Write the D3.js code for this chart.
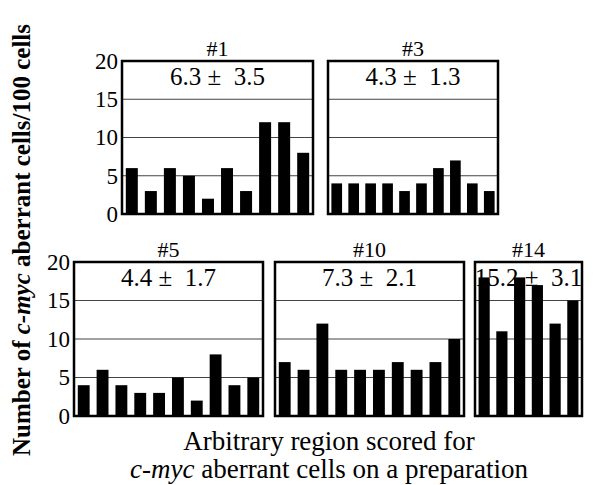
<!DOCTYPE html>
<html>
<head>
<meta charset="utf-8">
<script src="https://cdn.jsdelivr.net/npm/d3@7"></script>
<style>
  body { margin: 0; background: #fff; }
  svg { display: block; }
  text { font-family: "Liberation Serif", "DejaVu Serif", serif; fill: #000; }
</style>
</head>
<body>
<div id="chart"></div>
<script>
// panel names and summary stats (mean ± sd)
const panelNames = ["#1", "#3", "#5", "#10", "#14"];
const panelMeans = ["6.3", "4.3", "4.4", "7.3", "15.2"];
const panelSDs = ["3.5", "1.3", "1.7", "2.1", "3.1"];

// aberrant cells per 100 cells, one bar per region scored
const cells1 = [6, 3, 6, 5, 2, 6, 3, 12, 12, 8];
const cells3 = [4, 4, 4, 4, 3, 4, 6, 7, 4, 3];
const cells5 = [4, 6, 4, 3, 3, 5, 2, 8, 4, 5];
const cells10 = [7, 6, 12, 6, 6, 6, 7, 6, 7, 10];
const cells14 = [18, 11, 18, 17, 12, 15];

const yTicks = [0, 5, 10, 15, 20];

const allCells = [cells1, cells3, cells5, cells10, cells14];

// panel boxes: x0, x1, row
const boxes = [
    {x0: 122, x1: 313, row: 0, axis: true},
    {x0: 328, x1: 498, row: 0, axis: false},
    {x0: 74, x1: 263, row: 1, axis: true},
    {x0: 275, x1: 464, row: 1, axis: false},
    {x0: 475, x1: 582, row: 1, axis: false}
];
const rows = [{top: 61, bottom: 214}, {top: 262, bottom: 416}];

const width = 612, height = 485;

const svg = d3.select("#chart").append("svg")
    .attr("width", width)
    .attr("height", height);

panelNames.forEach((name, i) => {
    let b = boxes[i];
    let r = rows[b.row];
    let vals = allCells[i];

    let y = d3.scaleLinear().domain([0, 20]).range([r.bottom, r.top]);
    let x = d3.scaleBand()
        .domain(d3.range(vals.length))
        .range([b.x0, b.x1])
        .paddingInner(0.37)
        .paddingOuter(0.2);

    let g = svg.append("g");

    // grid lines
    g.selectAll("line.grid")
        .data(yTicks.filter(t => t > 0 && t < 20))
        .enter().append("line")
        .attr("class", "grid")
        .attr("x1", b.x0).attr("x2", b.x1)
        .attr("y1", d => y(d)).attr("y2", d => y(d))
        .attr("stroke", "#444")
        .attr("stroke-width", 1.2);

    // title above box
    g.append("text")
        .attr("x", (b.x0 + b.x1) / 2)
        .attr("y", r.top - 5)
        .attr("text-anchor", "middle")
        .attr("font-size", 22)
        .text(name);

    // mean ± sd inside the box (drawn before bars, #14 bars cover it)
    g.append("text")
        .attr("x", (b.x0 + b.x1) / 2)
        .attr("y", r.top + 24)
        .attr("text-anchor", "middle")
        .attr("font-size", 25)
        .style("white-space", "pre")
        .text(panelMeans[i] + " \u00b1  " + panelSDs[i]);

    // bars
    g.selectAll("rect.bar")
        .data(vals)
        .enter().append("rect")
        .attr("class", "bar")
        .attr("x", (d, j) => x(j))
        .attr("width", x.bandwidth())
        .attr("y", d => y(d))
        .attr("height", d => y(0) - y(d))
        .attr("fill", "#000");

    // frame
    g.append("rect")
        .attr("x", b.x0).attr("y", r.top)
        .attr("width", b.x1 - b.x0).attr("height", r.bottom - r.top)
        .attr("fill", "none")
        .attr("stroke", "#000")
        .attr("stroke-width", 2.5);

    if (b.axis) {
        let ax = g.append("g")
            .attr("transform", `translate(${b.x0},0)`)
            .call(d3.axisLeft(y).tickValues(yTicks).tickSize(0).tickPadding(4));
        ax.select(".domain").remove();
        ax.selectAll("text")
            .attr("font-size", 23)
            .attr("font-family", "Liberation Serif, DejaVu Serif, serif")
            .attr("fill", "#000");
    }
});

// y axis title
let yTitle = svg.append("text")
    .attr("transform", "translate(30,240) rotate(-90)")
    .attr("text-anchor", "middle")
    .attr("font-size", 25)
    .attr("font-weight", "bold");
yTitle.append("tspan").text("Number of ");
yTitle.append("tspan").attr("font-style", "italic").text("c-myc");
yTitle.append("tspan").text(" aberrant cells/100 cells");

// x axis title, two lines
svg.append("text")
    .attr("x", 329).attr("y", 450)
    .attr("text-anchor", "middle")
    .attr("font-size", 27)
    .text("Arbitrary region scored for");

let xTitle2 = svg.append("text")
    .attr("x", 329).attr("y", 478)
    .attr("text-anchor", "middle")
    .attr("font-size", 27);
xTitle2.append("tspan").attr("font-style", "italic").text("c-myc");
xTitle2.append("tspan").text(" aberrant cells on a preparation");
</script>
</body>
</html>
